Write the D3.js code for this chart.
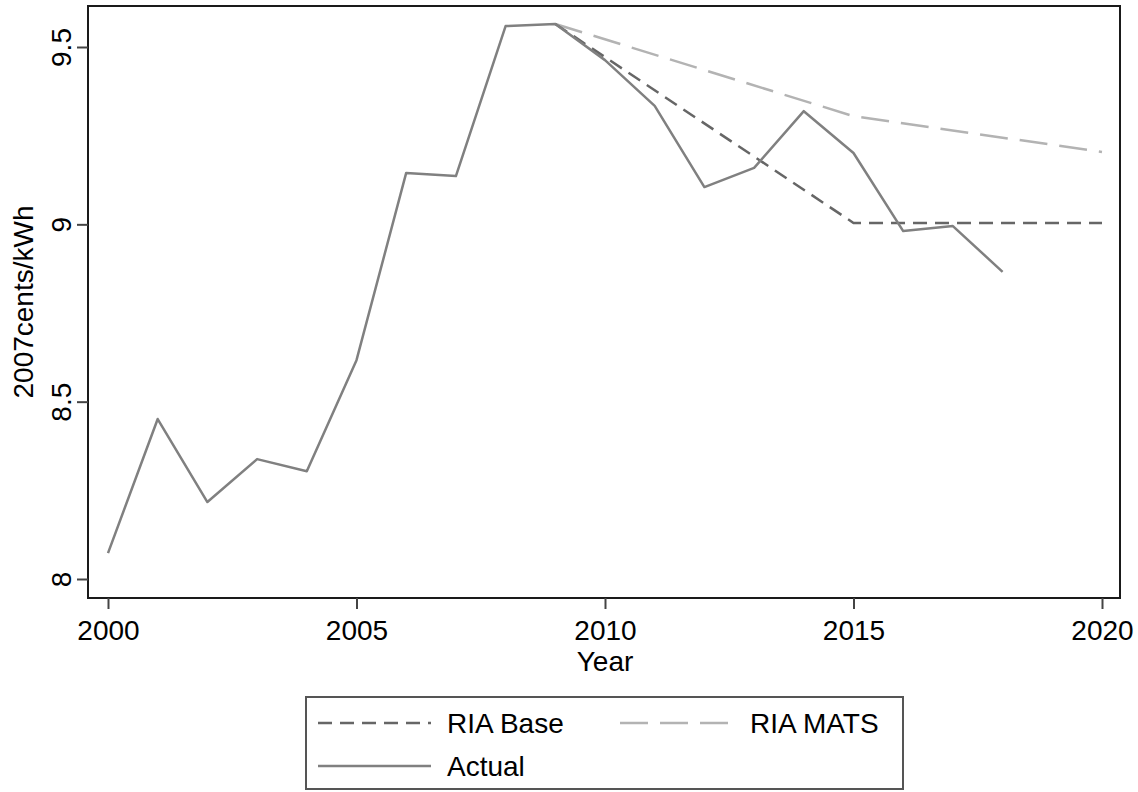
<!DOCTYPE html>
<html>
<head>
<meta charset="utf-8">
<script src="https://cdn.jsdelivr.net/npm/d3@7"></script>
<style>
  body { margin: 0; background: #fff; }
  svg { font-family: "Liberation Sans", Arial, sans-serif; }
</style>
</head>
<body>
<div id="chart"></div>
<script>
// data
var actualYears = [2000, 2001, 2002, 2003, 2004, 2005, 2006, 2007, 2008, 2009,
  2010, 2011, 2012, 2013, 2014, 2015, 2016, 2017, 2018];
var actualValues = [8.073, 8.451, 8.217, 8.338, 8.304, 8.617, 9.145, 9.136, 9.559, 9.565,
  9.463, 9.334, 9.105, 9.159, 9.319, 9.201, 8.981, 8.995, 8.866];
var baseYears = [2009, 2015, 2020];
var baseValues = [9.565, 9.004, 9.004];
var matsYears = [2009, 2015, 2020];
var matsValues = [9.565, 9.305, 9.204];
var xTicks = [2000, 2005, 2010, 2015, 2020];
var yTicks = [8, 8.5, 9, 9.5];

var svgWidth = 1138;
var svgHeight = 792;

// plot frame
var frame = { left: 88, right: 1120, top: 6, bottom: 598 };

var svg = d3.select("#chart")
  .append("svg")
  .attr("width", svgWidth)
  .attr("height", svgHeight);

var x = d3.scaleLinear()
  .domain([2000, 2020])
  .range([108, 1102]);

var y = d3.scaleLinear()
  .domain([8, 9.5])
  .range([579, 47]);

// frame box
svg.append("rect")
  .attr("x", frame.left)
  .attr("y", frame.top)
  .attr("width", frame.right - frame.left)
  .attr("height", frame.bottom - frame.top)
  .attr("fill", "none")
  .attr("stroke", "#1a1a1a")
  .attr("stroke-width", 2);

// x axis
var xAxis = svg.append("g")
  .attr("transform", `translate(0, ${frame.bottom})`)
  .call(d3.axisBottom(x).tickValues(xTicks).tickFormat(d3.format("d")).tickSize(11).tickPadding(11));

xAxis.select(".domain").remove();
xAxis.selectAll(".tick line").attr("stroke", "#444").attr("stroke-width", 2);
xAxis.selectAll(".tick text")
  .attr("font-size", "28px")
  .attr("fill", "#000")
  .attr("font-family", "Liberation Sans, Arial, sans-serif");

// y axis
var yAxis = svg.append("g")
  .attr("transform", `translate(${frame.left}, 0)`)
  .call(d3.axisLeft(y).tickValues(yTicks).tickFormat(d3.format("")).tickSize(11).tickPadding(0));

yAxis.select(".domain").remove();
yAxis.selectAll(".tick line").attr("stroke", "#444").attr("stroke-width", 2);
yAxis.selectAll(".tick text")
  .attr("font-size", "28px")
  .attr("fill", "#000")
  .attr("font-family", "Liberation Sans, Arial, sans-serif")
  .attr("text-anchor", "middle")
  .attr("x", 0)
  .attr("dy", 0)
  .attr("transform", "translate(-17, 0) rotate(-90)");

// axis titles
svg.append("text")
  .attr("x", 605)
  .attr("y", 671)
  .attr("text-anchor", "middle")
  .attr("font-size", "28px")
  .attr("fill", "#000")
  .text("Year");

svg.append("text")
  .attr("transform", `translate(33, ${(frame.top + frame.bottom) / 2}) rotate(-90)`)
  .attr("text-anchor", "middle")
  .attr("font-size", "28px")
  .attr("fill", "#000")
  .text("2007cents/kWh");

// lines
var line = d3.line()
  .x(d => x(d[0]))
  .y(d => y(d[1]));

var series = [
  { name: "RIA MATS", years: matsYears, values: matsValues, color: "#b3b3b3", dash: "28,12", width: 2.5 },
  { name: "RIA Base", years: baseYears, values: baseValues, color: "#666666", dash: "14,8", width: 2.5 },
  { name: "Actual", years: actualYears, values: actualValues, color: "#808080", dash: null, width: 2.5 }
];

series.forEach(function(s) {
  var pts = s.years.map((yr, i) => [yr, s.values[i]]);
  svg.append("path")
    .datum(pts)
    .attr("d", line)
    .attr("fill", "none")
    .attr("stroke", s.color)
    .attr("stroke-width", s.width)
    .attr("stroke-dasharray", s.dash)
    .attr("stroke-linejoin", "round");
});

// legend
var legend = svg.append("g");

legend.append("rect")
  .attr("x", 306)
  .attr("y", 697)
  .attr("width", 597)
  .attr("height", 92)
  .attr("fill", "#fff")
  .attr("stroke", "#555")
  .attr("stroke-width", 2);

var legendItems = [
  { s: series[1], x1: 318, x2: 431, tx: 447, ty: 733 },
  { s: series[0], x1: 620, x2: 733, tx: 750, ty: 733 },
  { s: series[2], x1: 318, x2: 431, tx: 447, ty: 776 }
];

legendItems.forEach(function(it) {
  legend.append("line")
    .attr("x1", it.x1)
    .attr("x2", it.x2)
    .attr("y1", it.ty - 10)
    .attr("y2", it.ty - 10)
    .attr("stroke", it.s.color)
    .attr("stroke-width", it.s.width)
    .attr("stroke-dasharray", it.s.dash);

  legend.append("text")
    .attr("x", it.tx)
    .attr("y", it.ty)
    .attr("font-size", "28px")
    .attr("fill", "#000")
    .text(it.s.name);
});
</script>
</body>
</html>
